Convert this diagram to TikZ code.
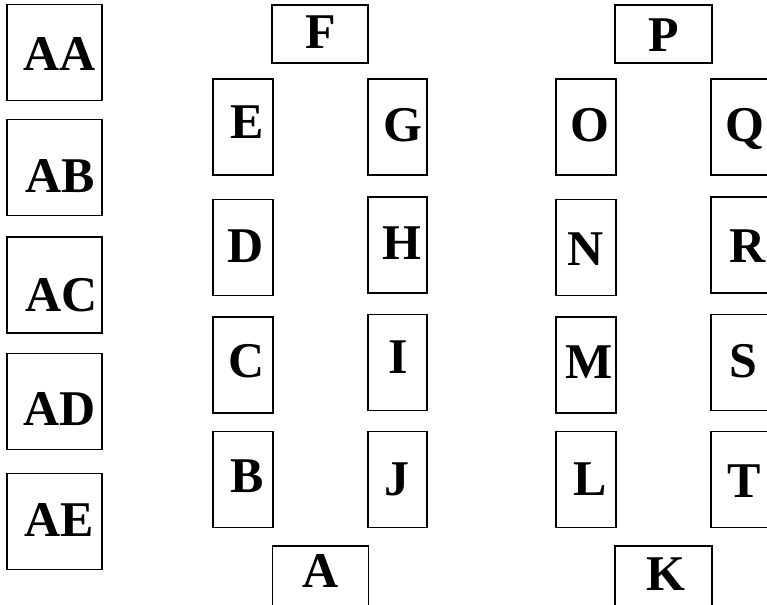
\documentclass[tikz,border=0pt]{standalone}
\usepackage{fontspec}
\setmainfont{Liberation Serif}
\begin{document}
\begin{tikzpicture}[x=1pt,y=-1pt,
  box/.style={draw=black,line width=1.8pt,inner sep=0pt,outer sep=0pt,rectangle},
  sq/.style={box,minimum width=95pt,minimum height=96pt},
  tall/.style={box,minimum width=60pt,minimum height=96pt},
  wide/.style={box,minimum width=96pt,minimum height=58pt},
  lab/.style={anchor=base,inner sep=0pt,font=\fontsize{50}{50}\selectfont\bfseries}]
\useasboundingbox (0,0) rectangle (767,604);
\clip (0,0) rectangle (767,604);
% left column
\node[sq] (bAA) at (54.5,52.5) {};
\node[sq] (bAB) at (54.5,167.5) {};
\node[sq] (bAC) at (54.5,285) {};
\node[sq] (bAD) at (54.5,401.5) {};
\node[sq] (bAE) at (54.5,521.5) {};
\node[lab] (tAA) at (60,71) {AA};
\node[lab] (tAB) at (60.5,192) {AB};
\node[lab] (tAC) at (61.5,311) {AC};
\node[lab] (tAD) at (60,425) {AD};
\node[lab] (tAE) at (59.5,536) {AE};
% middle group
\node[wide] (bF) at (320,34) {};
\node[wide,minimum height=62pt] (bA) at (320.5,577) {};
\node[tall] (bE) at (243,127) {};
\node[tall] (bD) at (243,247.5) {};
\node[tall] (bC) at (243,365) {};
\node[tall] (bB) at (243,479.5) {};
\node[tall,minimum width=59pt] (bG) at (397.5,127) {};
\node[tall,minimum width=59pt] (bH) at (397.5,245) {};
\node[tall,minimum width=59pt] (bI) at (397.5,362.5) {};
\node[tall,minimum width=59pt] (bJ) at (397.5,479.5) {};
\node[lab] (tF) at (321,49) {F};
\node[lab] (tA) at (321,587) {A};
\node[lab] (tE) at (247,139) {E};
\node[lab] (tD) at (245.5,262) {D};
\node[lab] (tC) at (246.5,377) {C};
\node[lab] (tB) at (247,492) {B};
\node[lab] (tG) at (403,142) {G};
\node[lab] (tH) at (402,259) {H};
\node[lab] (tI) at (398,373) {I};
\node[lab] (tJ) at (397,495) {J};
% right group
\node[wide,minimum width=97pt] (bP) at (663.5,34) {};
\node[wide,minimum width=97pt,minimum height=62pt] (bK) at (663.5,577) {};
\node[tall] (bO) at (586,127) {};
\node[tall] (bN) at (586,247.5) {};
\node[tall] (bM) at (586,365) {};
\node[tall] (bL) at (586,479.5) {};
\node[tall] (bQ) at (741,127) {};
\node[tall] (bR) at (741,245) {};
\node[tall] (bS) at (741,362.5) {};
\node[tall] (bT) at (741,479.5) {};
\node[lab] (tP) at (664,52) {P};
\node[lab] (tK) at (665.5,590) {K};
\node[lab] (tO) at (590,142) {O};
\node[lab] (tN) at (585.5,265) {N};
\node[lab] (tM) at (589,378) {M};
\node[lab] (tL) at (590,495) {L};
\node[lab] (tQ) at (745,142) {Q};
\node[lab] (tR) at (748,262) {R};
\node[lab] (tS) at (743,377) {S};
\node[lab] (tT) at (744,497) {T};
\end{tikzpicture}
\end{document}
